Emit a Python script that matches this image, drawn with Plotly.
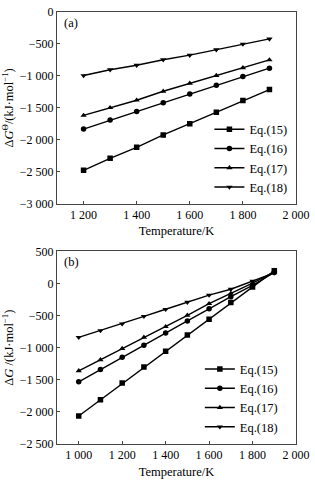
import plotly.graph_objects as go

# ---- data (a) standard Gibbs energy change ----
temp_a = [1200, 1300, 1400, 1500, 1600, 1700, 1800, 1900]
eq15_a = [-2476, -2288, -2116, -1922, -1746, -1568, -1385, -1213]
eq16_a = [-1831, -1689, -1557, -1420, -1283, -1146, -1009, -878]
eq17_a = [-1618, -1497, -1380, -1240, -1116, -994, -872, -750]
eq18_a = [-994, -903, -832, -746, -675, -589, -502, -421]

# ---- data (b) Gibbs energy change ----
temp_b = [1000, 1100, 1200, 1300, 1400, 1500, 1600, 1700, 1800, 1900]
eq15_b = [-2063, -1812, -1551, -1300, -1054, -803, -557, -297, -56, 196]
eq16_b = [-1532, -1340, -1149, -964, -773, -583, -396, -206, -30, 170]
eq17_b = [-1360, -1190, -1014, -839, -673, -497, -316, -155, 5, 180]
eq18_b = [-839, -733, -628, -512, -402, -291, -181, -90, 35, 165]

names = ["Eq.(15)", "Eq.(16)", "Eq.(17)", "Eq.(18)"]
symbols = ["square", "circle", "triangle-up", "triangle-down"]

xt_a = [1200, 1400, 1600, 1800, 2000]
xt_b = [1000, 1200, 1400, 1600, 1800, 2000]
yt_a = [0, -500, -1000, -1500, -2000, -2500, -3000]
yt_b = [500, 0, -500, -1000, -1500, -2000, -2500]


def fmt(v):
    s = f"{abs(v):,}".replace(",", " ")
    return ("\u2212" if v < 0 else "") + s


FONT = "Liberation Serif"
fig = go.Figure()

for ys, n, s in zip([eq15_a, eq16_a, eq17_a, eq18_a], names, symbols):
    fig.add_trace(go.Scatter(x=temp_a, y=ys, name=n, mode="lines+markers",
                             line=dict(color="black", width=1.4),
                             marker=dict(symbol=s, size=5.5, color="black"),
                             xaxis="x", yaxis="y", legend="legend"))
for ys, n, s in zip([eq15_b, eq16_b, eq17_b, eq18_b], names, symbols):
    fig.add_trace(go.Scatter(x=temp_b, y=ys, name=n, mode="lines+markers",
                             line=dict(color="black", width=1.4),
                             marker=dict(symbol=s, size=5.5, color="black"),
                             xaxis="x2", yaxis="y2", legend="legend2"))

axis_common = dict(showline=True, linecolor="#444", linewidth=1, mirror=True,
                   ticks="inside", ticklen=3, tickcolor="#444", showgrid=False,
                   zeroline=False, ticklabeloverflow="allow",
                   tickfont=dict(family=FONT, size=12, color="black"))

fig.update_layout(
    width=315, height=481,
    margin=dict(l=57, r=12, t=5, b=32),
    paper_bgcolor="white", plot_bgcolor="white",
    font=dict(family=FONT, size=12, color="black"),
    xaxis=dict(domain=[0, 1], range=[1100, 2000], anchor="y",
               tickvals=xt_a, ticktext=[fmt(v) for v in xt_a],
               title=dict(text="Temperature/K", standoff=5,
                          font=dict(family=FONT, size=12.5)), **axis_common),
    yaxis=dict(domain=[0.556, 1], range=[-3000, 0], anchor="x",
               tickvals=yt_a, ticktext=[fmt(v) for v in yt_a],
               title=dict(text="Δ<i>G</i><sup>Θ</sup>/(kJ·mol<sup>−1</sup>)", standoff=4,
                          font=dict(family=FONT, size=12.5)), **axis_common),
    xaxis2=dict(domain=[0, 1], range=[900, 2000], anchor="y2",
                tickvals=xt_b, ticktext=[fmt(v) for v in xt_b],
                title=dict(text="Temperature/K", standoff=5,
                           font=dict(family=FONT, size=12.5)), **axis_common),
    yaxis2=dict(domain=[0, 0.446], range=[-2500, 500], anchor="x2",
                tickvals=yt_b, ticktext=[fmt(v) for v in yt_b],
                title=dict(text="Δ<i>G</i> /(kJ·mol<sup>−1</sup>)", standoff=4,
                           font=dict(family=FONT, size=12.5)), **axis_common),
    legend=dict(x=0.985, y=0.561, xanchor="right", yanchor="bottom",
                bgcolor="rgba(0,0,0,0)", itemwidth=30, tracegroupgap=0,
                font=dict(family=FONT, size=12.5)),
    legend2=dict(x=0.945, y=0.006, xanchor="right", yanchor="bottom",
                 bgcolor="rgba(0,0,0,0)", itemwidth=30, tracegroupgap=0,
                 font=dict(family=FONT, size=12.5)),
    showlegend=True,
    annotations=[
        dict(text="(a)", xref="x domain", yref="y domain", x=0.02, y=0.99,
             xanchor="left", yanchor="top", showarrow=False,
             font=dict(family=FONT, size=12.5)),
        dict(text="(b)", xref="x2 domain", yref="y2 domain", x=0.02, y=0.99,
             xanchor="left", yanchor="top", showarrow=False,
             font=dict(family=FONT, size=12.5)),
    ],
)

fig.write_html("out.html")
